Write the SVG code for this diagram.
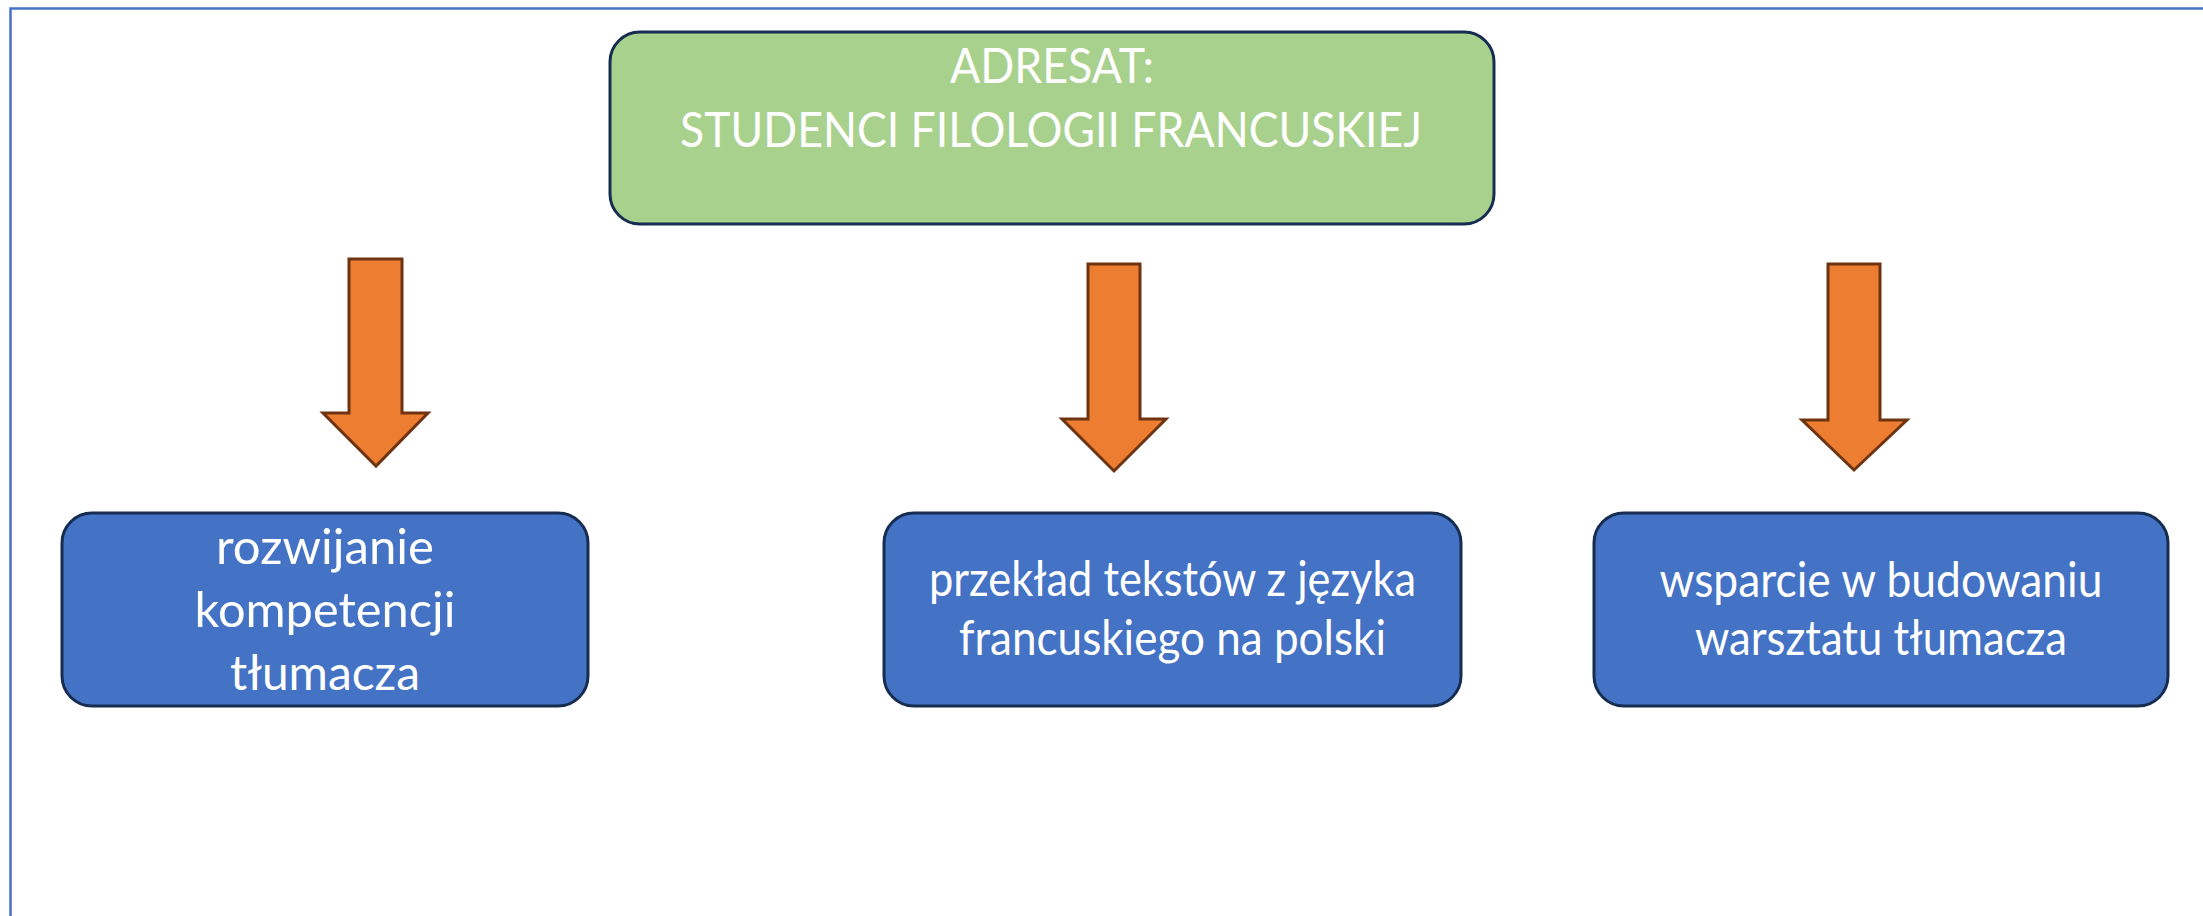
<svg xmlns="http://www.w3.org/2000/svg" width="2203" height="916" viewBox="0 0 2203 916">
<style>
.frame{fill:none;stroke:#4472c4;stroke-width:2.5}
.green{fill:#a9d18e;stroke:#172c51;stroke-width:3}
.blue{fill:#4472c4;stroke:#172c51;stroke-width:3}
.arrow{fill:#ed7d31;stroke:#6e3412;stroke-width:3;stroke-linejoin:miter}
.t{font-family:Lato,"Open Sans","Liberation Sans",sans-serif;fill:#ffffff;text-anchor:middle}
.tt{font-size:49px}
.bt{font-size:48px}
</style>
<rect width="2203" height="916" fill="#ffffff"/>
<path class="frame" d="M10.5,916 V8.5 H2203"/>
<g id="adresat">
<rect class="green" x="610" y="32" width="884" height="192" rx="30" ry="30"/>
<text class="t tt" x="1052" y="83" textLength="204" lengthAdjust="spacingAndGlyphs">ADRESAT:</text>
<text class="t tt" x="1051" y="147" textLength="742" lengthAdjust="spacingAndGlyphs">STUDENCI FILOLOGII FRANCUSKIEJ</text>
</g>
<g id="connectors">
<path class="arrow" d="M349,259 H402 V413 H428 L376,466 L323,413 H349 Z"/>
<path class="arrow" d="M1088,264 H1140 V419 H1166 L1114,471 L1062,419 H1088 Z"/>
<path class="arrow" d="M1828,264 H1880 V420 H1907 L1854,470 L1802,420 H1828 Z"/>
</g>
<g id="rozwijanie">
<rect class="blue" x="62" y="513" width="526" height="193" rx="30" ry="30"/>
<text class="t bt" x="325" y="564" textLength="218" lengthAdjust="spacingAndGlyphs">rozwijanie</text>
<text class="t bt" x="325" y="627" textLength="261" lengthAdjust="spacingAndGlyphs">kompetencji</text>
<text class="t bt" x="325" y="690" textLength="190" lengthAdjust="spacingAndGlyphs">tłumacza</text>
</g>
<g id="przeklad">
<rect class="blue" x="884" y="513" width="577" height="193" rx="30" ry="30"/>
<text class="t bt" x="1172.5" y="596" textLength="487" lengthAdjust="spacingAndGlyphs">przekład tekstów z języka</text>
<text class="t bt" x="1172.5" y="655" textLength="427" lengthAdjust="spacingAndGlyphs">francuskiego na polski</text>
</g>
<g id="wsparcie">
<rect class="blue" x="1594" y="513" width="574" height="193" rx="30" ry="30"/>
<text class="t bt" x="1881" y="597" textLength="443" lengthAdjust="spacingAndGlyphs">wsparcie w budowaniu</text>
<text class="t bt" x="1881" y="655" textLength="372" lengthAdjust="spacingAndGlyphs">warsztatu tłumacza</text>
</g>
</svg>
